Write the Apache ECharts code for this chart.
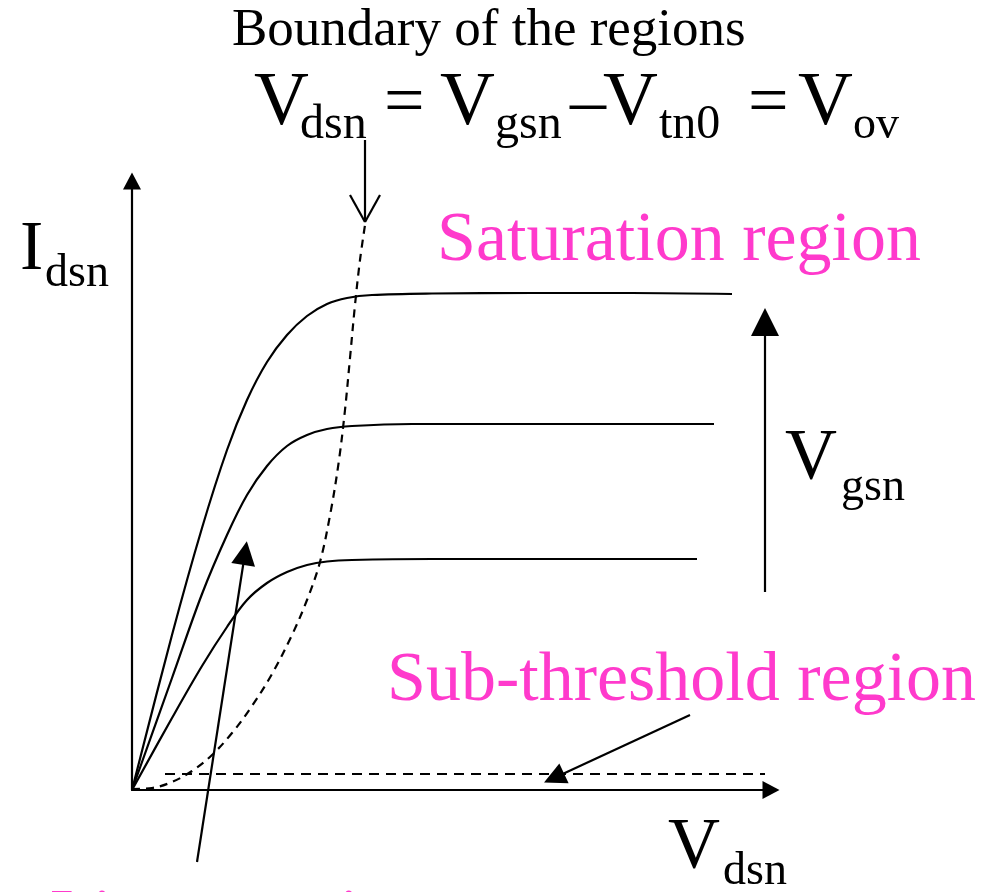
<!DOCTYPE html>
<html>
<head>
<meta charset="utf-8">
<title>MOSFET Ids-Vds regions</title>
<script src="https://cdn.jsdelivr.net/npm/echarts@6/dist/echarts.min.js"></script>
<style>
  html, body { margin: 0; padding: 0; background: #fff; }
  #main { width: 1003px; height: 892px; }
</style>
</head>
<body>
<div id="main"></div>
<script>
// axis ranges (1 unit = 100 px of the picture)
var X_MAX = 6.39;
var Y_MAX = 6.09;

// Ids-Vds curves, three Vgsn values [Vdsn, Idsn]
var curveHigh = [[0, 0], [0.40, 1.55], [0.70, 2.62], [0.95, 3.40], [1.15, 3.90], [1.35, 4.28],
  [1.55, 4.55], [1.75, 4.74], [1.95, 4.86], [2.15, 4.92], [2.40, 4.95], [3.00, 4.965],
  [4.00, 4.97], [5.00, 4.97], [6.00, 4.96]];
var curveMid = [[0, 0], [0.40, 1.12], [0.70, 1.96], [0.95, 2.55], [1.15, 2.95], [1.35, 3.24],
  [1.55, 3.44], [1.75, 3.55], [1.95, 3.61], [2.20, 3.64], [2.80, 3.66], [4.00, 3.66], [5.82, 3.66]];
var curveLow = [[0, 0], [0.40, 0.72], [0.70, 1.24], [0.95, 1.63], [1.15, 1.90], [1.35, 2.07],
  [1.55, 2.18], [1.75, 2.25], [1.95, 2.285], [2.20, 2.30], [3.00, 2.31], [5.65, 2.31]];

// boundary Vdsn = Vov (dashed)
var boundary = [[0, 0.01], [0.20, 0.02], [0.40, 0.08], [0.60, 0.19], [0.80, 0.35], [1.00, 0.57],
  [1.20, 0.84], [1.40, 1.16], [1.60, 1.55], [1.75, 1.90], [1.88, 2.28], [1.99, 2.80],
  [2.07, 3.30], [2.13, 3.80], [2.18, 4.32], [2.23, 4.85], [2.28, 5.30], [2.33, 5.65]];

// sub-threshold level (dashed)
var subThreshold = [[0.33, 0.16], [6.33, 0.16]];

// pointer arrows [from, to]
var arrowLinear = [[0.65, -0.72], [1.13, 2.37]];
var arrowSub = [[5.58, 0.75], [4.22, 0.12]];
var arrowVgs = [[6.33, 1.98], [6.33, 4.68]];
var arrowBoundary = [[2.33, 6.50], [2.33, 5.68]];
var arrowBoundaryHead = [[[2.18, 5.95], [2.33, 5.68]], [[2.48, 5.95], [2.33, 5.68]]];

var PINK = '#ff3acc';
var SERIF = '"Liberation Serif", "Times New Roman", serif';

function txt(str, x, baseline, size, color) {
  return {
    type: 'text',
    x: x,
    y: baseline - size * 0.3,
    silent: true,
    style: {
      text: str,
      font: size + 'px ' + SERIF,
      fill: color || '#000',
      align: 'left',
      verticalAlign: 'middle'
    }
  };
}

function arrow(coords, size) {
  return {
    type: 'lines',
    coordinateSystem: 'cartesian2d',
    clip: false,
    silent: true,
    symbol: ['none', 'triangle'],
    symbolSize: [0, size],
    lineStyle: { color: '#000', width: 2.2, opacity: 1 },
    data: [{ coords: coords }]
  };
}

function curve(data) {
  return {
    type: 'line', data: data, smooth: 0.35, showSymbol: false, silent: true,
    lineStyle: { color: '#000', width: 2.2 }
  };
}

var chart = echarts.init(document.getElementById('main'));

var option = {
  animation: false,
  backgroundColor: '#fff',
  grid: { left: 132, right: 232, top: 181, bottom: 102 },
  xAxis: {
    type: 'value', min: 0, max: X_MAX,
    axisLine: { show: true, lineStyle: { color: '#000', width: 2.2 }, symbol: ['none', 'triangle'], symbolSize: [18, 17] },
    axisTick: { show: false }, axisLabel: { show: false }, splitLine: { show: false }
  },
  yAxis: {
    type: 'value', min: 0, max: Y_MAX,
    axisLine: { show: true, lineStyle: { color: '#000', width: 2.2 }, symbol: ['none', 'triangle'], symbolSize: [18, 17] },
    axisTick: { show: false }, axisLabel: { show: false }, splitLine: { show: false }
  },
  series: [
    curve(curveHigh),
    curve(curveMid),
    curve(curveLow),
    { type: 'line', data: boundary, smooth: 0.35, showSymbol: false, silent: true, lineStyle: { color: '#000', width: 2.2, type: [8, 6] } },
    { type: 'line', data: subThreshold, showSymbol: false, silent: true, lineStyle: { color: '#000', width: 2.2, type: [10, 7] } },
    arrow(arrowLinear, 24),
    arrow(arrowSub, 22),
    arrow(arrowVgs, 28),
    arrow(arrowBoundary, 0),
    {
      type: 'lines', coordinateSystem: 'cartesian2d', clip: false, silent: true,
      lineStyle: { color: '#000', width: 2.2, opacity: 1 },
      data: arrowBoundaryHead.map(function (c) { return { coords: c }; })
    }
  ],
  graphic: [
    txt('Boundary of the regions', 232, 47, 53),
    txt('V', 254, 127, 76), txt('dsn', 300, 140, 48),
    txt('=', 384, 127, 72),
    txt('V', 440, 127, 76), txt('gsn', 495, 140, 48),
    txt('\u2013', 570, 127, 72),
    txt('V', 603, 127, 76), txt('tn0', 659, 140, 48),
    txt('=', 748, 127, 72),
    txt('V', 798, 127, 76), txt('ov', 853, 140, 46),
    txt('I', 20, 272, 70), txt('dsn', 45, 288, 46),
    txt('Saturation region', 437, 263, 70, PINK),
    txt('V', 785, 481, 72), txt('gsn', 841, 502, 46),
    txt('Sub-threshold region', 387, 703, 70, PINK),
    txt('V', 668, 870, 72), txt('dsn', 723, 886, 46),
    txt('Linear region', 50, 940, 70, PINK)
  ]
};

chart.setOption(option);
</script>
</body>
</html>
